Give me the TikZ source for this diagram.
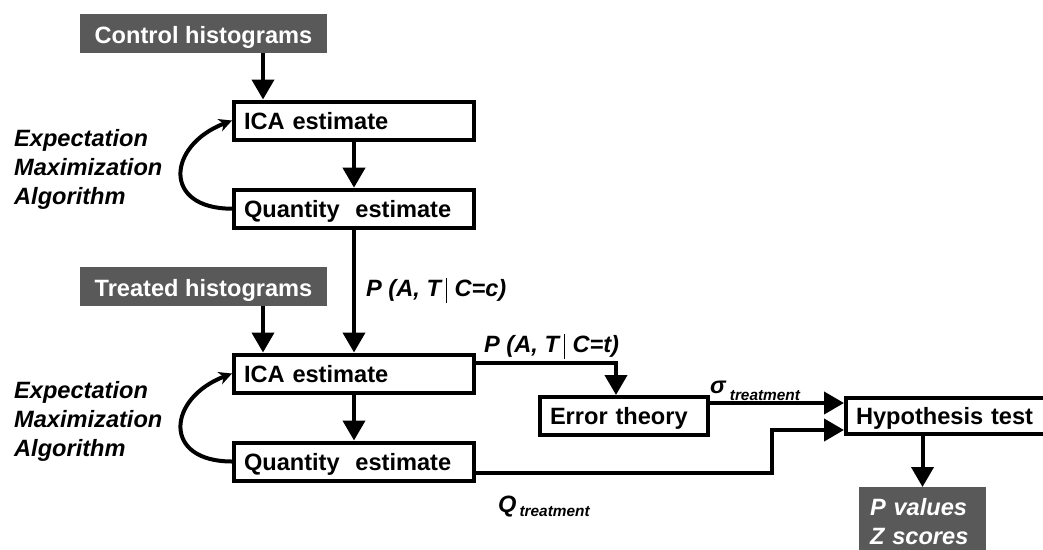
\documentclass[tikz,border=0pt]{standalone}
\usepackage{fontspec}
\setmainfont{Liberation Sans}
\usetikzlibrary{arrows.meta}
\definecolor{histgray}{RGB}{89,89,89}
\newcommand{\condbar}{\hspace{0.22em}\rule[-0.28em]{1.3pt}{1.06em}\hspace{0.3em}}
\newcommand{\subtxt}[2]{\raisebox{-#1}{\fontsize{15.4}{18}\selectfont #2}}
\begin{document}
\begin{tikzpicture}[x=1pt,y=-1pt,
    font=\fontsize{23.6}{29}\selectfont\bfseries,
    box/.style={draw,line width=4pt,inner xsep=10pt,inner ysep=0pt,minimum height=38pt,
      align=left,text height=17pt,text depth=0pt},
    hist/.style={fill=histgray,text=white,inner sep=0pt,minimum width=247pt,minimum height=39pt,
      text height=20pt,text depth=0pt},
    lbl/.style={inner sep=0pt,font=\fontsize{23.6}{29}\selectfont\bfseries\itshape},
    flow/.style={line width=4pt,-{Triangle[width=22pt,length=20pt]}},
    emloop/.style={line width=4pt,-{Stealth[width=13pt,length=13pt,inset=4pt]}}]
  \useasboundingbox (0,0) rectangle (1043,549);
  \clip (0,0) rectangle (1043,549);
  \path
    (203.5,33.7) node[hist] (ctrl){Control histograms}
    (354,120.5) node[box,text width=220pt] (ica1){ICA estimate}
    (354,208.7) node[box,text width=220pt] (qty1){Quantity~~estimate}
    (203.5,286.7) node[hist] (trt){Treated histograms}
    (354,373.5) node[box,text width=220pt] (ica2){ICA estimate}
    (354,461.5) node[box,text width=220pt] (qty2){Quantity~~estimate}
    (624,416) node[box,text width=148pt] (err){Error theory}
    (953,416) node[box,text width=194pt,minimum height=36pt] (hyp){Hypothesis test}
    (922.5,487) node[lbl,fill=histgray,text=white,anchor=north,align=left,text width=105pt,
      inner xsep=11pt,inner ysep=11pt] (pz){P values\\Z scores};
  \node[lbl,anchor=north west,align=left] (em1) at (14,129) {Expectation\\Maximization\\Algorithm};
  \node[lbl,anchor=north west,align=left] (em2) at (14,381) {Expectation\\Maximization\\Algorithm};
  \node[lbl,anchor=base west] (pc) at (366,296) {P (A, T\condbar C=c)};
  \node[lbl,anchor=base west] (pt) at (484,352) {P (A, T\condbar C=t)};
  \node[lbl,anchor=base west] (sig) at (710,393) {σ\hspace{4pt}\subtxt{7pt}{treatment}};
  \node[lbl,anchor=base west] (qt) at (498,512) {Q\hspace{3pt}\subtxt{4pt}{treatment}};
  \begin{scope}[flow]
    \draw ([xshift=59.5pt]ctrl.south) -- ([xshift=59.5pt]ctrl.south |- ica1.north);
    \draw (ica1) -- (qty1);
    \draw (qty1) -- (ica2);
    \draw ([xshift=59.5pt]trt.south) -- ([xshift=59.5pt]trt.south |- ica2.north);
    \draw (ica2) -- (qty2);
    \draw ([yshift=10.5pt]ica2.east) -| ([xshift=-8pt]err.north);
    \draw ([yshift=13pt]err.east) -- ([yshift=13pt]hyp.west);
    \draw ([yshift=-11.5pt]qty2.east) -| ([xshift=-72pt,yshift=-14pt]hyp.west) -- ([yshift=-14pt]hyp.west);
    \draw (hyp.south -| pz.north) -- (pz.north);
  \end{scope}
  \draw[emloop] (qty1.west) .. controls +(-70,0) and +(-65,25) .. (ica1.west);
  \draw[emloop] (qty2.west) .. controls +(-70,0) and +(-65,25) .. (ica2.west);
\end{tikzpicture}
\end{document}
